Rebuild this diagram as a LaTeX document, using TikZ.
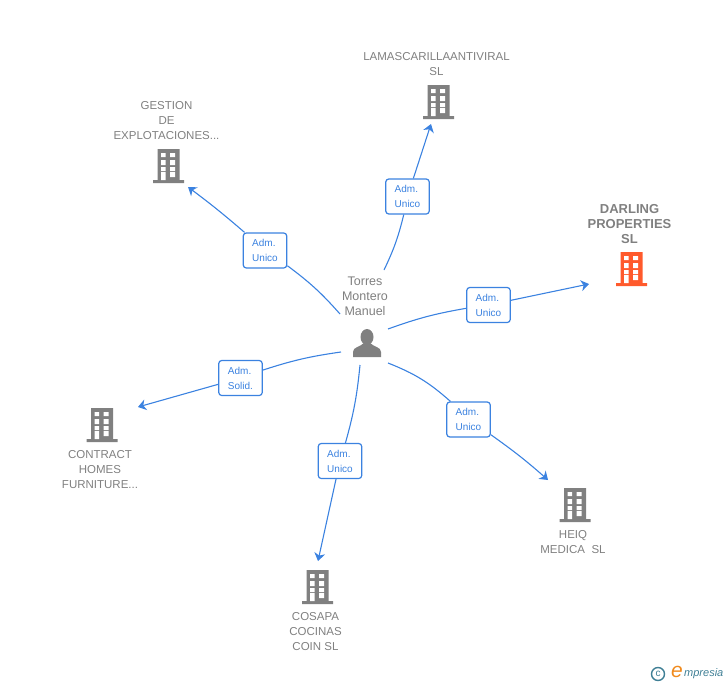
\documentclass[tikz,border=0pt]{standalone}
\usepackage{fontspec}
\setmainfont{Liberation Sans}
\usetikzlibrary{positioning,arrows.meta}
\definecolor{linkblue}{HTML}{3B82E0}
\definecolor{namegray}{HTML}{808080}
\definecolor{iconred}{HTML}{FF5A2C}
\definecolor{logoteal}{HTML}{3F7F95}
\definecolor{logoorange}{HTML}{F08A1D}
\newcommand{\towershape}[1]{%
  \fill[#1] (-11,-17) rectangle (11,14) (-15.5,14) rectangle (15.5,17);
  \fill[white] (-7.5,-13) rectangle (-3,-9) (1.5,-13) rectangle (6.5,-9)
    (-7.5,-6) rectangle (-3,-1) (1.5,-6) rectangle (6.5,-1)
    (-7.5,1) rectangle (-3,5) (1.5,1) rectangle (6.5,5)
    (-7.5,6) rectangle (-3,14) (1.5,6) rectangle (6.5,11);}
\tikzset{
  tower/.style={minimum width=31pt,minimum height=34pt,inner sep=0pt,
    path picture={\begin{scope}[shift={(path picture bounding box.center)}]\towershape{#1}\end{scope}}},
  tower/.default=namegray,
  person/.style={minimum width=28pt,minimum height=28pt,inner sep=0pt,
    path picture={\begin{scope}[shift={(path picture bounding box.center)}]
      \fill[namegray] (0,-6) ellipse (6.5 and 8);
      \fill[namegray] (-14,14) -- (-14,9) .. controls (-14,4) and (-7,4) .. (-3,0) -- (3,0)
        .. controls (7,4) and (14,4) .. (14,9) -- (14,14) -- cycle;
    \end{scope}}},
  firm/.style={align=center,text=namegray,inner sep=0pt,xshift=-2pt,
    font=\fontsize{11.5}{15}\selectfont},
  badge/.style={draw=linkblue,fill=white,rounded corners=3pt,line width=1.2pt,
    minimum width=43.5pt,minimum height=35pt,inner sep=0pt,align=left,text=linkblue,
    font=\fontsize{10}{15}\selectfont},
  link/.style={draw=linkblue,color=linkblue,line width=1.1pt},
  tip/.style={-{Stealth[length=8pt,width=11pt,inset=2.5pt]}},
}
\begin{document}
\begin{tikzpicture}[x=1pt,y=-1pt]
   \useasboundingbox (0,0) rectangle (728,685);
   % people and firms
   \node[person] (torres) at (367,343) {};
   \node[firm,font=\fontsize{12.5}{15}\selectfont,above=13pt of torres] (torreslabel) {Torres\\Montero\\Manuel};
   \node[tower] (lamas) at (438.5,102) {};
   \node[firm,above=9pt of lamas] (lamaslabel) {LAMASCARILLAANTIVIRAL\\SL};
   \node[tower] (gestion) at (168.5,166) {};
   \node[firm,above=9pt of gestion] (gestionlabel) {GESTION\\DE\\EXPLOTACIONES...};
   \node[tower=iconred] (darling) at (631.5,269) {};
   \node[firm,font=\bfseries\fontsize{13}{15}\selectfont,above=8pt of darling] (darlinglabel) {DARLING\\PROPERTIES\\SL};
   \node[tower] (contract) at (102,425) {};
   \node[firm,below=8pt of contract] (contractlabel) {CONTRACT\\HOMES\\FURNITURE...};
   \node[tower] (heiq) at (575,505) {};
   \node[firm,below=8pt of heiq] (heiqlabel) {HEIQ\\MEDICA\ \ SL};
   \node[tower] (cosapa) at (317.5,587) {};
   \node[firm,below=8pt of cosapa] (cosapalabel) {COSAPA\\COCINAS\\COIN SL};
   % free ends
   \coordinate (s1) at (384,270); \coordinate (t1) at (431,124);
   \coordinate (s2) at (340,314); \coordinate (t2) at (188,187);
   \coordinate (s3) at (388,329); \coordinate (t3) at (589,284);
   \coordinate (s4) at (388,363); \coordinate (t4) at (548,480);
   \coordinate (s5) at (360,365); \coordinate (t5) at (318,561);
   \coordinate (s6) at (341,352); \coordinate (t6) at (138,407);
   % connectors first, badges over them
   \node[badge] (b1) at (407.5,196.5) {Adm.\\Unico};
   \node[badge] (b2) at (265,250.5) {Adm.\\Unico};
   \node[badge] (b3) at (488.5,305) {Adm.\\Unico};
   \node[badge] (b4) at (468.5,419.5) {Adm.\\Unico};
   \node[badge] (b5) at (340,461) {Adm.\\Unico};
   \node[badge] (b6) at (240.5,378) {Adm.\\Solid.};
   \path[link]
(s1) edge [bend right=6] (b1)
(b1) edge [tip] (t1)
(s2) edge [bend right=6] (b2)
(b2) edge [tip,bend right=2] (t2)
(s3) edge [bend left=5] (b3)
(b3) edge [tip] (t3)
(s4) edge [bend left=10] (b4)
(b4) edge [tip,bend left=3] (t4)
(s5) edge [bend left=5] (b5)
(b5) edge [tip] (t5)
(s6) edge [bend right=5] (b6)
(b6) edge [tip] (t6);
   % logo
   \node[circle,draw=logoteal,line width=1.4pt,minimum size=13pt,inner sep=0pt,text=logoteal,font=\fontsize{10}{10}\selectfont] (logoc) at (658,674) {c};
   \node[inner sep=0pt,text=logoorange,font=\itshape\fontsize{21}{21}\selectfont] (logoe) at (677,672) {e};
   \node[inner sep=0pt,text=logoteal,font=\itshape\fontsize{11}{11}\selectfont,anchor=west] (logotext) at (684,674) {mpresia};
\end{tikzpicture}
\end{document}
